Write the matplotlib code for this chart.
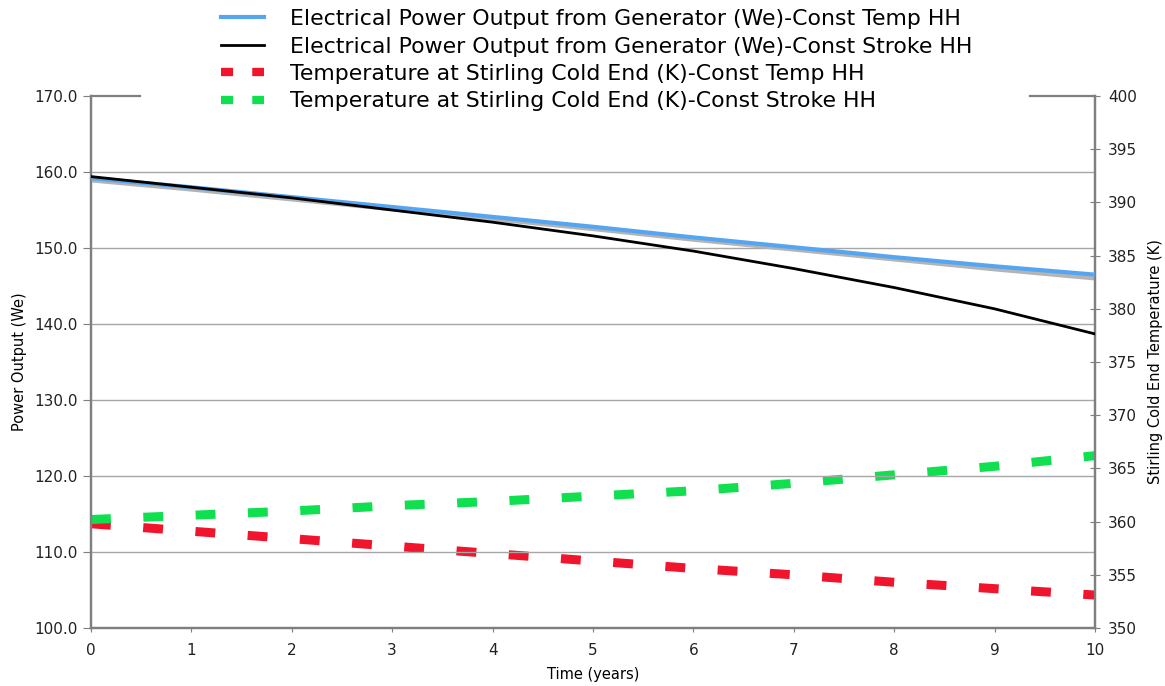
import matplotlib
matplotlib.use('Agg')
import matplotlib.pyplot as plt
import numpy as np

plt.rcParams['font.family'] = ['DejaVu Sans']

# time axis (years)
years = [0, 1, 2, 3, 4, 5, 6, 7, 8, 9, 10]

# electrical power output (We)
power_const_temp = [159.2, 158.0, 156.7, 155.4, 154.1, 152.8, 151.4, 150.1, 148.8, 147.6, 146.5]
power_const_stroke = [159.4, 158.0, 156.6, 155.0, 153.4, 151.6, 149.6, 147.3, 144.8, 142.0, 138.7]
power_shadow = [158.9, 157.7, 156.4, 155.1, 153.8, 152.5, 151.1, 149.8, 148.5, 147.2, 146.0]

# cold end temperature (K)
temp_const_temp = [359.8, 359.1, 358.4, 357.7, 357.0, 356.3, 355.6, 355.0, 354.3, 353.7, 353.1]
temp_const_stroke = [360.2, 360.6, 361.0, 361.5, 361.9, 362.4, 362.9, 363.6, 364.4, 365.2, 366.2]

labels = ['Electrical Power Output from Generator (We)-Const Temp HH',
          'Electrical Power Output from Generator (We)-Const Stroke HH',
          'Temperature at Stirling Cold End (K)-Const Temp HH',
          'Temperature at Stirling Cold End (K)-Const Stroke HH']

BLUE = '#55A5F0'
RED = '#F0142D'
GREEN = '#10E050'
SPINE = '#7F7F7F'

fig = plt.figure(figsize=(11.65, 6.86), dpi=100)
ax = fig.add_axes([0.0781, 0.0845, 0.8618, 0.7755])
ax2 = ax.twinx()

ax.set_xlim(0, 10)
ax.set_ylim(100, 170)
ax2.set_ylim(350, 400)
ax.set_yticks(np.arange(100, 171, 10))
ax.set_yticklabels([f'{v:.1f}' for v in np.arange(100, 171, 10)])
ax2.set_yticks(np.arange(350, 401, 5))
ax.set_xticks(years)

ax.grid(axis='y', color='#A6A6A6', lw=1)
ax.yaxis.get_gridlines()[-1].set_visible(False)
ax.set_axisbelow(True)

l3, = ax2.plot(years, temp_const_temp, color=RED, lw=6.5, dashes=(2.2, 3.6), dash_capstyle='butt')
l4, = ax2.plot(years, temp_const_stroke, color=GREEN, lw=6.5, dashes=(2.2, 3.6), dash_capstyle='butt')
ax.plot(years, power_shadow, color='#B4B4B4', lw=3, zorder=2)
l1, = ax.plot(years, power_const_temp, color=BLUE, lw=3, zorder=3)
l2, = ax.plot(years, power_const_stroke, color='black', lw=2, zorder=4)
ax.set_zorder(ax2.get_zorder() + 1)
ax.patch.set_visible(False)

for a in (ax, ax2):
    for s in a.spines.values():
        s.set_color(SPINE)
        s.set_linewidth(1.6)
    a.spines['top'].set_visible(False)
    a.tick_params(colors=SPINE, labelcolor='#222222', labelsize=11)

ax.tick_params(axis='y', direction='out', length=6)
ax.tick_params(axis='x', direction='out', length=3, pad=8)
ax2.tick_params(axis='y', direction='inout', length=7, pad=6)

# short stubs of the top border at each corner
ax.plot([0, 0.049], [1, 1], transform=ax.transAxes, color=SPINE, lw=1.6, clip_on=False)
ax.plot([0.935, 1.0], [1, 1], transform=ax.transAxes, color=SPINE, lw=1.6, clip_on=False)

ax.set_xlabel('Time (years)', fontsize=10.5, labelpad=6)
ax.set_ylabel('Power Output (We)', fontsize=10.5, labelpad=5)
ax2.set_ylabel('Stirling Cold End Temperature (K)', fontsize=10.5, labelpad=8)

leg = fig.legend([l1, l2, l3, l4], labels, loc='upper left',
                 bbox_to_anchor=(0.1874, 0.99), frameon=False, fontsize=15.8,
                 borderaxespad=0, borderpad=0.1,
                 handlelength=2.0, handletextpad=1.15, labelspacing=0.34)
for h in leg.legend_handles[2:]:
    h.set_linewidth(6)
    h.set_dashes((1.45, 2.3))

fig.savefig('out.png', dpi=100)
